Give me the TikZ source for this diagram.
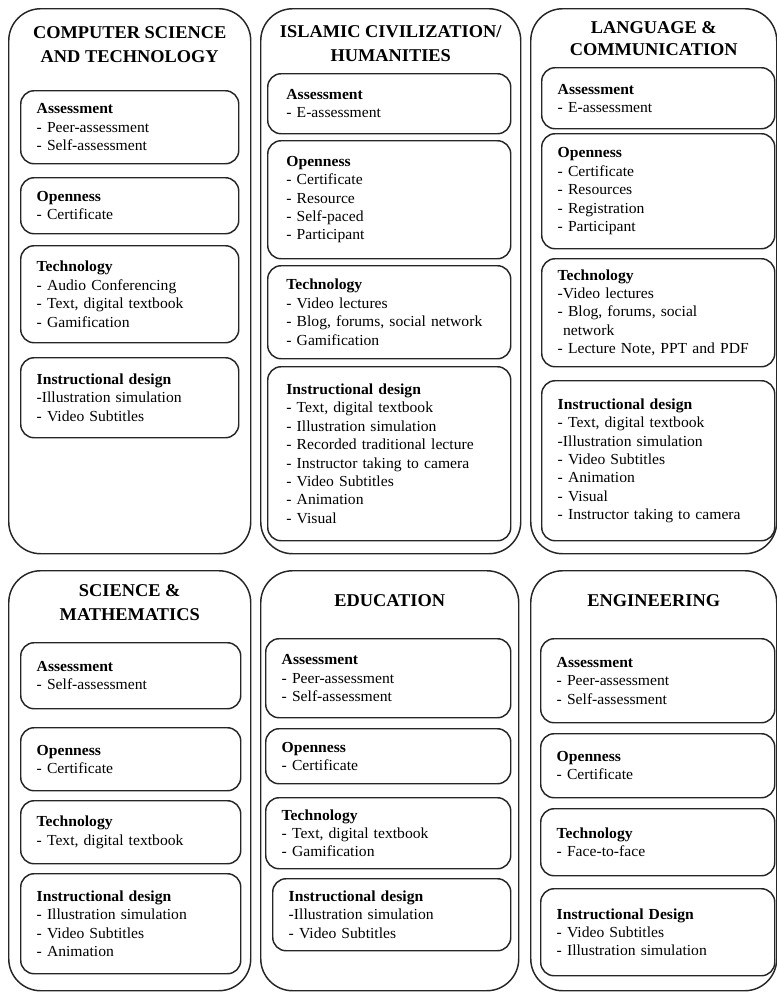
\documentclass[tikz,border=0pt]{standalone}
\usepackage{fontspec}
\setmainfont{Liberation Serif}[FakeStretch=1.02]
\usetikzlibrary{positioning}
\tikzstyle{field} = [rectangle, rounded corners=24pt, draw=black!85, line width=1.1pt, anchor=north west, inner sep=0pt]
\tikzstyle{category} = [rectangle, rounded corners=10pt, draw=black!85, line width=1.1pt, anchor=north west, align=left, inner xsep=12pt, inner ysep=2pt, font=\fontsize{11.5}{13.8}\selectfont]
\tikzstyle{heading} = [anchor=north, align=center, inner sep=0pt, font=\fontsize{13.5}{18}\selectfont\bfseries]

\begin{document}
\begin{tikzpicture}[x=0.75pt, y=-0.75pt]
    \useasboundingbox (0,0) rectangle (777,992);

    % top row
    \node (cs) [field, minimum width=181.5pt, minimum height=408.75pt] at (8,8) {};
    \node (is) [field, minimum width=195pt, minimum height=408.75pt] at (260,8) {};
    \node (lc) [field, minimum width=184.5pt, minimum height=408.75pt] at (530,8) {};

    \node (cstitle) [heading, below=14pt of cs.north] {COMPUTER SCIENCE\\AND TECHNOLOGY};
    \node (istitle) [heading, below=13pt of is.north] {ISLAMIC CIVILIZATION/\\HUMANITIES};
    \node (lctitle) [heading, font=\fontsize{13.5}{16.5}\selectfont\bfseries, below=10pt of lc.north] {LANGUAGE \&\\COMMUNICATION};

    \node (csA) [category, text width=139.5pt, minimum height=54.75pt] at (20,90) {\textbf{Assessment}\\- Peer-assessment\\- Self-assessment};
    \node (csO) [category, text width=139.5pt, minimum height=42pt] at (20,177) {\textbf{Openness}\\- Certificate};
    \node (csT) [category, text width=139.5pt, minimum height=72.75pt] at (20,245) {\textbf{Technology}\\- Audio Conferencing\\- Text, digital textbook\\- Gamification};
    \node (csI) [category, text width=139.5pt, minimum height=60pt] at (20,357) {\textbf{Instructional design}\\-Illustration simulation\\- Video Subtitles};

    \node (isA) [category, inner xsep=14pt, text width=154.25pt, minimum height=45pt] at (267,73) {\textbf{Assessment}\\- E-assessment};
    \node (isO) [category, inner xsep=14pt, text width=154.25pt, minimum height=88.5pt] at (267,140) {\textbf{Openness}\\- Certificate\\- Resource\\- Self-paced\\- Participant};
    \node (isT) [category, inner xsep=14pt, text width=154.25pt, minimum height=69.75pt] at (267,265) {\textbf{Technology}\\- Video lectures\\- Blog, forums, social network\\- Gamification};
    \node (isI) [category, inner xsep=14pt, text width=154.25pt, minimum height=130.5pt] at (267,366) {\textbf{Instructional design}\\- Text, digital textbook\\- Illustration simulation\\- Recorded traditional lecture\\- Instructor taking to camera\\- Video Subtitles\\- Animation\\- Visual};

    \node (lcA) [category, text width=150.75pt, minimum height=45.75pt] at (541,67) {\textbf{Assessment}\\- E-assessment};
    \node (lcO) [category, text width=150.75pt, minimum height=86.25pt] at (541,133) {\textbf{Openness}\\- Certificate\\- Resources\\- Registration\\- Participant};
    \node (lcT) [category, text width=150.75pt, minimum height=81pt] at (541,258) {\textbf{Technology}\\-Video lectures\\- Blog, forums, social\\\hspace*{4pt}network\\- Lecture Note, PPT and PDF};
    \node (lcI) [category, text width=150.75pt, minimum height=120pt] at (541,380) {\textbf{Instructional design}\\- Text, digital textbook\\-Illustration simulation\\- Video Subtitles\\- Animation\\- Visual\\- Instructor taking to camera};

    % bottom row
    \node (sm) [field, minimum width=181.5pt, minimum height=315pt] at (8,570) {};
    \node (ed) [field, minimum width=193.5pt, minimum height=315pt] at (260,570) {};
    \node (en) [field, minimum width=184.5pt, minimum height=315pt] at (530,570) {};

    \node (smtitle) [heading, below=10.5pt of sm.north] {SCIENCE \&\\MATHEMATICS};
    \node (edtitle) [heading, below=18pt of ed.north] {EDUCATION};
    \node (entitle) [heading, below=18pt of en.north] {ENGINEERING};

    \node (smA) [category, text width=141pt, minimum height=49.5pt] at (20,642) {\textbf{Assessment}\\- Self-assessment};
    \node (smO) [category, text width=141pt, minimum height=47.25pt] at (20,727) {\textbf{Openness}\\- Certificate};
    \node (smT) [category, text width=141pt, minimum height=47.25pt] at (20,800) {\textbf{Technology}\\- Text, digital textbook};
    \node (smI) [category, text width=141pt, minimum height=75pt] at (20,873) {\textbf{Instructional design}\\- Illustration simulation\\- Video Subtitles\\- Animation};

    \node (edA) [category, text width=159.75pt, minimum height=59.25pt] at (265,638) {\textbf{Assessment}\\- Peer-assessment\\- Self-assessment};
    \node (edO) [category, text width=159.75pt, minimum height=41.25pt] at (265,728) {\textbf{Openness}\\- Certificate};
    \node (edT) [category, text width=159.75pt, minimum height=53.25pt] at (265,797) {\textbf{Technology}\\- Text, digital textbook\\- Gamification};
    \node (edI) [category, text width=154.5pt, minimum height=54pt] at (272,878) {\textbf{Instructional design}\\-Illustration simulation\\- Video Subtitles};

    \node (enA) [category, text width=151.5pt, minimum height=63pt] at (540,638) {\textbf{Assessment}\\- Peer-assessment\\- Self-assessment};
    \node (enO) [category, text width=151.5pt, minimum height=48pt] at (540,733) {\textbf{Openness}\\- Certificate};
    \node (enT) [category, text width=151.5pt, minimum height=50.25pt] at (540,808) {\textbf{Technology}\\- Face-to-face};
    \node (enI) [category, text width=151.5pt, minimum height=65.25pt] at (540,888) {\textbf{Instructional Design}\\- Video Subtitles\\- Illustration simulation};
\end{tikzpicture}
\end{document}
